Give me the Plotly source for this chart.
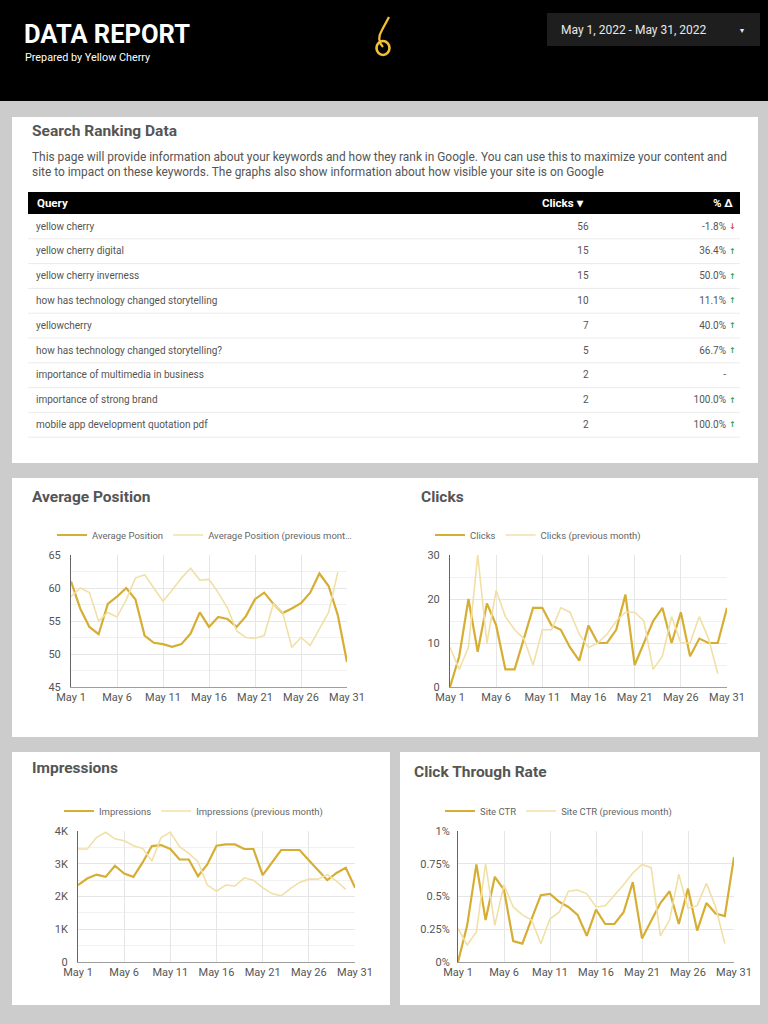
import plotly.graph_objects as go
import pandas as pd

# ------------------------------------------------------------------ data
days = [d for d in pd.date_range("2022-05-01", "2022-05-31", freq="D")]
prev_days = days[:30]
x_ticks = ["May 1", "May 6", "May 11", "May 16", "May 21", "May 26", "May 31"]

avg_position = [61.0, 56.9, 54.1, 53.0, 57.6, 58.7, 60.0, 58.3, 52.8, 51.7, 51.5,
                51.1, 51.5, 53.1, 56.3, 54.1, 55.6, 55.3, 54.1, 55.7, 58.3, 59.3,
                57.6, 56.2, 56.9, 57.7, 59.3, 62.2, 60.3, 55.9, 48.8]
avg_position_prev = [58.7, 60.0, 59.3, 55.0, 56.3, 55.6, 58.2, 61.5, 62.0, 60.0,
                     58.0, 59.7, 61.5, 63.0, 61.2, 61.3, 59.3, 57.0, 53.5, 52.5,
                     52.4, 52.8, 57.6, 56.3, 51.0, 52.5, 51.3, 53.8, 56.3, 62.4]

clicks = [0, 7, 20, 8, 19, 14, 4, 4, 11, 18, 18, 14, 13, 9, 6, 14, 10, 10, 13, 21,
          5, 10, 15, 18, 10, 17, 7, 11, 10, 10, 18]
clicks_prev = [9, 4, 9, 30, 10, 22, 16, 13, 11, 5, 13, 13, 18, 17, 12, 9, 10, 12,
               15, 17, 17, 15, 4, 7, 16, 10, 10, 16, 11, 3]

impressions = [2350, 2550, 2670, 2600, 2940, 2700, 2600, 3040, 3540, 3570, 3450,
               3130, 3130, 2620, 2980, 3550, 3590, 3590, 3450, 3450, 2650, 3040,
               3420, 3420, 3420, 3110, 2810, 2500, 2720, 2880, 2270]
impressions_prev = [3450, 3450, 3800, 3960, 3760, 3700, 3550, 3470, 3080, 3800,
                    3960, 3520, 3320, 3060, 2350, 2160, 2350, 2320, 2570, 2500,
                    2270, 2090, 2020, 2240, 2430, 2530, 2530, 2670, 2470, 2220]

site_ctr = [0.0, 0.0028, 0.00745, 0.0032, 0.0065, 0.0055, 0.0016, 0.0014, 0.0033,
            0.0051, 0.0052, 0.0046, 0.0042, 0.0036, 0.0020, 0.0040, 0.0029, 0.0029,
            0.0038, 0.0061, 0.0018, 0.0031, 0.0045, 0.0054, 0.0029, 0.0056, 0.0024,
            0.0045, 0.0037, 0.0035, 0.0080]
site_ctr_prev = [0.00255, 0.0013, 0.0023, 0.0075, 0.0028, 0.0059, 0.0042, 0.0036,
                 0.0032, 0.0014, 0.0033, 0.0038, 0.0054, 0.0055, 0.0052, 0.0042,
                 0.0043, 0.0051, 0.0059, 0.0068, 0.00745, 0.0072, 0.0020, 0.0032,
                 0.0067, 0.0041, 0.0043, 0.0060, 0.0042, 0.0014]

table_columns = ["Query", "Clicks ▾", "% Δ"]
queries = ["yellow cherry", "yellow cherry digital", "yellow cherry inverness",
           "how has technology changed storytelling", "yellowcherry",
           "how has technology changed storytelling?",
           "importance of multimedia in business", "importance of strong brand",
           "mobile app development quotation pdf"]
query_clicks = [56, 15, 15, 10, 7, 5, 2, 2, 2]
pct_change = [-1.8, 36.4, 50.0, 11.1, 40.0, 66.7, None, 100.0, 100.0]

impr_tickvals = [0, 1000, 2000, 3000, 4000]
impr_ticktext = ["0", "1K", "2K", "3K", "4K"]

# ------------------------------------------------------------------ style
W, H = 768, 1024
FONT = "Roboto"
CUR = "#d6ae33"
PREV = "#f1e0a6"
GRID = "#e6e6e6"
MINOR = "#f1f1f1"
TXT = "#555555"


def X(px):
    return px / W


def Y(py):
    return 1 - py / H


fig = go.Figure()

shapes = []
annotations = []

# page header + cards
shapes.append(dict(type="rect", xref="paper", yref="paper", x0=0, x1=1, y0=Y(101), y1=1,
                   fillcolor="#000000", line=dict(width=0), layer="below"))
for (x0, y0, x1, y1) in [(12, 117, 758, 463), (12, 478, 758, 737),
                         (12, 752, 390, 1005), (400, 752, 760, 1005)]:
    shapes.append(dict(type="rect", xref="paper", yref="paper", x0=X(x0), x1=X(x1),
                       y0=Y(y1), y1=Y(y0), fillcolor="#ffffff",
                       line=dict(width=0), layer="below"))
# date selector
shapes.append(dict(type="rect", xref="paper", yref="paper", x0=X(547), x1=X(760),
                   y0=Y(46), y1=Y(13), fillcolor="#1e1e1e", line=dict(width=0),
                   layer="below"))
# logo
shapes.append(dict(type="circle", xref="paper", yref="paper", x0=X(376.5), x1=X(389.5),
                   y0=Y(55), y1=Y(41), line=dict(color="#f2c035", width=2.6)))
shapes.append(dict(type="path", xref="paper", yref="paper",
                   path=f"M {X(383)} {Y(47)} Q {X(376)} {Y(40)} {X(382)} {Y(30)} "
                        f"L {X(389)} {Y(17)}",
                   line=dict(color="#f2c035", width=2.3)))


def ann(text, x, y, size, color, bold=False, xanchor="left"):
    t = f"<b>{text}</b>" if bold else text
    annotations.append(dict(text=t, x=X(x), y=Y(y), xref="paper", yref="paper",
                            xanchor=xanchor, yanchor="middle", showarrow=False,
                            align="left", font=dict(family=FONT, size=size, color=color)))


ann("DATA REPORT", 22, 34, 25.5, "#ffffff", bold=True)
ann("Prepared by Yellow Cherry", 23, 57, 10.8, "#ffffff")
ann("May 1, 2022 - May 31, 2022", 559, 30, 12, "#e8e8e8")
ann("▾", 742, 30, 8, "#e8e8e8", xanchor="center")

ann("Search Ranking Data", 30, 131, 15.5, TXT, bold=True)
ann("This page will provide information about your keywords and how they rank in Google. "
    "You can use this to maximize your content and<br>site to impact on these keywords. "
    "The graphs also show information about how visible your site is on Google",
    30, 164, 11.9, TXT)

ann("Average Position", 30, 497, 15.5, TXT, bold=True)
ann("Clicks", 419, 497, 15.5, TXT, bold=True)
ann("Impressions", 30, 768, 15.5, TXT, bold=True)
ann("Click Through Rate", 412, 772, 15.5, TXT, bold=True)

# ------------------------------------------------------------------ table
HEAD_TOP, HEAD_H, ROW_H = 192, 22, 24.8
ROW_TOP = HEAD_TOP + HEAD_H
HIDDEN_HEAD = 16  # space plotly keeps for an empty table header
pct_text = ["-" if v is None else f"{v:.1f}%" for v in pct_change]

# header bar + labels
shapes.append(dict(type="rect", xref="paper", yref="paper", x0=X(28), x1=X(740),
                   y0=Y(ROW_TOP), y1=Y(HEAD_TOP), fillcolor="#000000",
                   line=dict(width=0), layer="below"))
for label, hx, anchor in zip(table_columns, [35, 586, 735], ["left", "right", "right"]):
    ann(label, hx, HEAD_TOP + HEAD_H / 2, 11.5, "#ffffff", bold=True, xanchor=anchor)

fig.add_trace(go.Table(
    domain=dict(x=[X(28), X(734.5)], y=[Y(ROW_TOP + ROW_H * len(queries) + 3),
                                        Y(ROW_TOP - HIDDEN_HEAD)]),
    columnwidth=[400, 169, 137.5],
    header=dict(values=[], fill_color="rgba(0,0,0,0)", line_color="rgba(0,0,0,0)"),
    cells=dict(values=[queries, query_clicks, pct_text],
               fill_color="#ffffff", line_color="#ffffff",
               align=["left", "right", "right"],
               font=dict(family=FONT, size=10, color=TXT),
               height=ROW_H),
))
for k, v in enumerate(pct_change):
    yy = ROW_TOP + ROW_H * (k + 1)
    shapes.append(dict(type="line", xref="paper", yref="paper", x0=X(28), x1=X(740),
                       y0=Y(yy), y1=Y(yy), line=dict(color="#ebebeb", width=1)))
    if v is not None:
        annotations.append(dict(
            text="<b>↓</b>" if v < 0 else "<b>↑</b>", x=X(732.5), y=Y(yy - ROW_H / 2),
            xref="paper", yref="paper", xanchor="center", yanchor="middle",
            showarrow=False, borderpad=0,
            font=dict(family="DejaVu Sans", size=8,
                      color="#e03c31" if v < 0 else "#2e9e4f")))

# ------------------------------------------------------------------ charts
charts = [
    dict(cur=avg_position, prev=avg_position_prev,
         names=("Average Position", "Average Position (previous mont…"),
         xd=(71, 347), yd=(555, 687), yr=[45, 65], dtick=5, minor=2.5,
         leg=(52, 535)),
    dict(cur=clicks, prev=clicks_prev,
         names=("Clicks", "Clicks (previous month)"),
         xd=(450, 727), yd=(555, 687), yr=[0, 30], dtick=10, minor=5,
         leg=(430, 535)),
    dict(cur=impressions, prev=impressions_prev,
         names=("Impressions", "Impressions (previous month)"),
         xd=(78, 355), yd=(831, 962), yr=[0, 4000], dtick=1000, minor=500,
         leg=(59, 811)),
    dict(cur=site_ctr, prev=site_ctr_prev,
         names=("Site CTR", "Site CTR (previous month)"),
         xd=(458, 734), yd=(831, 962), yr=[0, 0.01], dtick=0.0025, minor=None,
         leg=(440, 811)),
]

layout_axes = {}
for i, c in enumerate(charts, start=1):
    sfx = "" if i == 1 else str(i)
    leg = "legend" if i == 1 else f"legend{i}"
    fig.add_trace(go.Scatter(x=days, y=c["cur"], mode="lines", name=c["names"][0],
                             line=dict(color=CUR, width=2.2), xaxis=f"x{sfx}",
                             yaxis=f"y{sfx}", legend=leg))
    fig.add_trace(go.Scatter(x=prev_days, y=c["prev"], mode="lines", name=c["names"][1],
                             line=dict(color=PREV, width=1.6), xaxis=f"x{sfx}",
                             yaxis=f"y{sfx}", legend=leg))
    xa = dict(domain=[X(c["xd"][0]), X(c["xd"][1])], anchor=f"y{sfx}", type="date",
              range=[days[0], days[-1]], tickvals=days[::5], ticktext=x_ticks,
              showgrid=True, gridcolor=GRID, gridwidth=1, showline=True,
              linecolor="#9e9e9e", linewidth=1, zeroline=False, ticks="",
              tickfont=dict(family=FONT, size=11, color=TXT), fixedrange=True)
    ya = dict(domain=[Y(c["yd"][1]), Y(c["yd"][0])], anchor=f"x{sfx}",
              range=c["yr"], dtick=c["dtick"], tick0=0, showgrid=True,
              gridcolor=GRID, gridwidth=1, showline=True, linecolor="#666666",
              linewidth=1, zeroline=False, ticks="", ticklabelstandoff=7,
              tickfont=dict(family=FONT, size=11, color=TXT), fixedrange=True)
    if c["minor"]:
        ya["minor"] = dict(dtick=c["minor"], showgrid=True, gridcolor=MINOR, gridwidth=1)
    if i == 3:
        ya.pop("dtick")
        ya["tickvals"] = impr_tickvals
        ya["ticktext"] = impr_ticktext
    if i == 4:
        ya["tickformat"] = ".2~%"
        ya["ticklabelstandoff"] = 5
    layout_axes[f"xaxis{sfx}"] = xa
    layout_axes[f"yaxis{sfx}"] = ya
    layout_axes[leg] = dict(x=X(c["leg"][0]), y=Y(c["leg"][1]), xanchor="left",
                            yanchor="middle", orientation="h",
                            bgcolor="rgba(0,0,0,0)", itemwidth=30,
                            font=dict(family=FONT, size=9.5, color="#666666"))

fig.update_layout(
    width=W, height=H, margin=dict(l=0, r=0, t=0, b=0, autoexpand=False),
    paper_bgcolor="#cccccc", plot_bgcolor="#ffffff",
    font=dict(family=FONT, color=TXT),
    shapes=shapes, annotations=annotations, showlegend=True,
    **layout_axes,
)

fig.write_html("out.html", config={"displayModeBar": False},
               post_script="document.body.style.margin='0';")
